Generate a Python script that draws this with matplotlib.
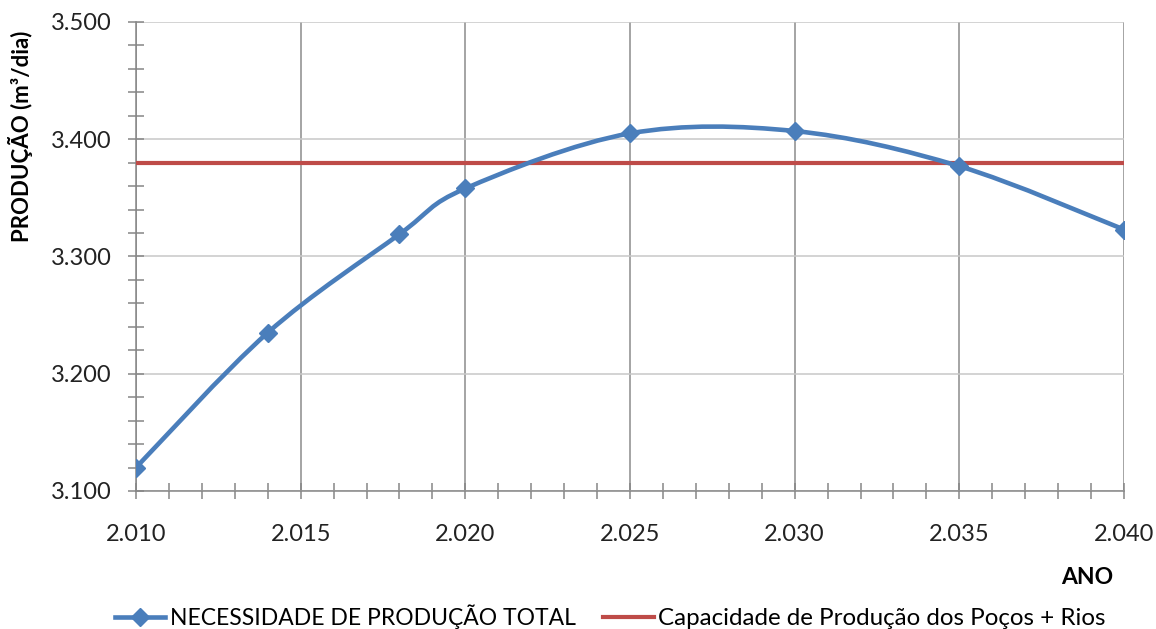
import matplotlib
matplotlib.use("Agg")
import matplotlib.pyplot as plt
from matplotlib.path import Path
from matplotlib.patches import PathPatch
from matplotlib.lines import Line2D
from matplotlib.ticker import FuncFormatter, MultipleLocator

anos = [2010, 2014, 2018, 2020, 2025, 2030, 2035, 2040]
necessidade = [3120, 3235, 3319, 3358, 3405, 3407, 3377, 3323]
capacidade = [3380, 3380, 3380, 3380, 3380, 3380, 3380, 3380]

AZUL = "#4A7EBB"
VERMELHO = "#BE4B48"

plt.rcParams["font.family"] = ["Lato", "DejaVu Sans"]


def smooth_path(xs, ys):
    # bezier segments like the spreadsheet "smoothed line" option
    pts = list(zip(xs, ys))
    verts = [pts[0]]
    codes = [Path.MOVETO]
    n = len(pts)
    for i in range(n - 1):
        p0 = pts[i - 1] if i > 0 else pts[i]
        p1 = pts[i]
        p2 = pts[i + 1]
        p3 = pts[i + 2] if i + 2 < n else pts[i + 1]
        c1 = (p1[0] + (p2[0] - p0[0]) / 6, p1[1] + (p2[1] - p0[1]) / 6)
        c2 = (p2[0] - (p3[0] - p1[0]) / 6, p2[1] - (p3[1] - p1[1]) / 6)
        verts += [c1, c2, p2]
        codes += [Path.CURVE4] * 3
    return Path(verts, codes)


fig = plt.figure(figsize=(11.56, 6.29), dpi=100)
ax = fig.add_axes([136 / 1156, 1 - 491 / 629, (1124 - 136) / 1156, (491 - 22) / 629])

ax.set_xlim(2010, 2040)
ax.set_ylim(3100, 3500)

ax.xaxis.set_major_locator(MultipleLocator(5))
ax.xaxis.set_minor_locator(MultipleLocator(1))
ax.yaxis.set_major_locator(MultipleLocator(100))
ax.yaxis.set_minor_locator(MultipleLocator(20))

fmt = FuncFormatter(lambda v, p: f"{v:,.0f}".replace(",", "."))
ax.xaxis.set_major_formatter(fmt)
ax.yaxis.set_major_formatter(fmt)

ax.grid(axis="x", which="major", color="#8c8c8c", linewidth=1.1)
ax.grid(axis="y", which="major", color="#c8c8c8", linewidth=1.1)
ax.set_axisbelow(True)

for s in ["top", "right"]:
    ax.spines[s].set_visible(False)
for s in ["left", "bottom"]:
    ax.spines[s].set_color("#868686")
    ax.spines[s].set_linewidth(1.1)

ax.tick_params(which="both", direction="inout", color="#868686", width=1.1, length=11)
ax.tick_params(axis="x", labelsize=17, pad=18, labelcolor="#222222")
ax.tick_params(axis="y", labelsize=17, pad=12, labelcolor="#222222")

# capacity line
ax.plot(anos, capacidade, color=VERMELHO, linewidth=3.0, solid_capstyle="butt", zorder=3)

# demand: smoothed curve plus diamond markers
ax.add_patch(PathPatch(smooth_path(anos, necessidade), facecolor="none",
                       edgecolor=AZUL, linewidth=3.3, zorder=4))
ax.plot(anos, necessidade, linestyle="none", marker="D", markersize=9,
        color=AZUL, zorder=5)

ax.set_ylabel("PRODUÇÃO (m³/dia)", fontsize=16, fontweight="bold")
ax.yaxis.set_label_coords((33 - 136) / 988, (491 - 136) / 469)
fig.text(1113 / 1156, 1 - 577 / 629, "ANO", fontsize=16.5, fontweight="bold",
         ha="right", va="center")

handles = [
    Line2D([], [], color=AZUL, linewidth=3.3, marker="D", markersize=9),
    Line2D([], [], color=VERMELHO, linewidth=3.0),
]
labels = ["NECESSIDADE DE PRODUÇÃO TOTAL", "Capacidade de Produção dos Poços + Rios"]
leg = fig.legend(handles, labels, loc="center left",
                 bbox_to_anchor=(115 / 1156, 1 - 617 / 629),
                 ncol=2, frameon=False, fontsize=16.5, handlelength=2.2,
                 handletextpad=0.2, columnspacing=1.2, borderpad=0, borderaxespad=0)
leg.get_texts()[1].set_fontsize(17.4)

fig.savefig("out.png", dpi=100, facecolor="white")
